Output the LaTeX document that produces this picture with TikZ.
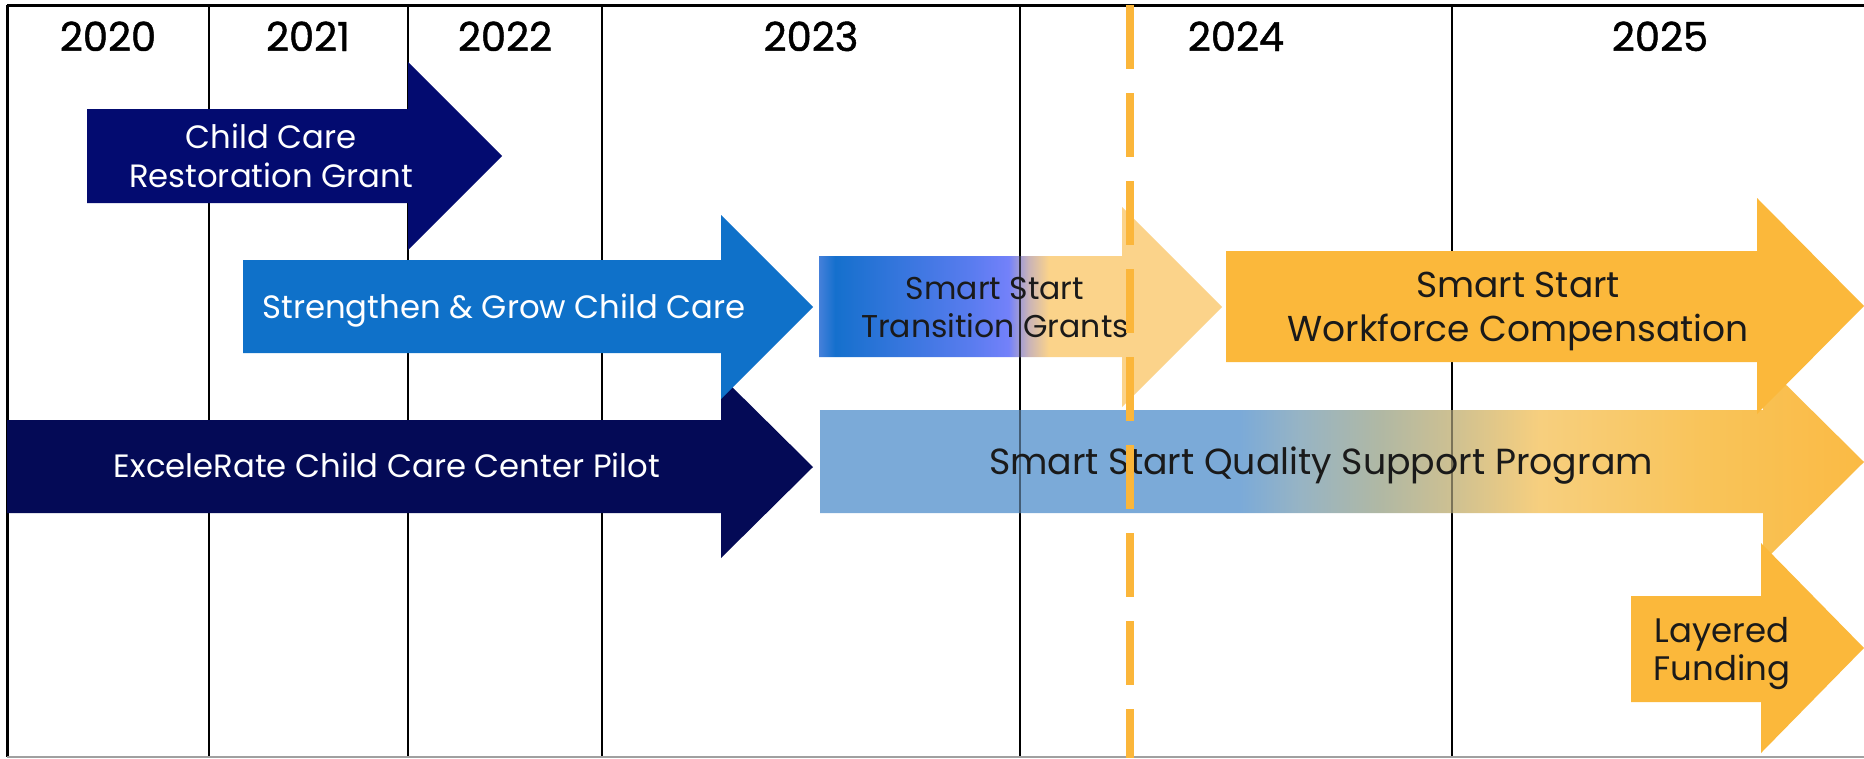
\documentclass[tikz,border=0pt]{standalone}
\usepackage{fontspec}
\setmainfont{Poppins}
\newfontfamily\yearfont[FakeBold=1.2]{Poppins}

% palette
\definecolor{navyA}{HTML}{030B70}
\definecolor{navyB}{HTML}{040A56}
\definecolor{sgblue}{HTML}{0F71C9}
\definecolor{ssorange}{HTML}{FBB83B}
\definecolor{lightorange}{HTML}{FBD38A}
\definecolor{dashorange}{HTML}{FBB63A}
\definecolor{gridgray}{HTML}{A0A0A0}
\definecolor{inkdark}{HTML}{1A1A1A}
% transition grant gradient stops
\definecolor{tgA}{HTML}{4580DA}
\definecolor{tgB}{HTML}{1570CD}
\definecolor{tgC}{HTML}{5A7CEF}
\definecolor{tgD}{HTML}{7381FA}
\definecolor{tgE}{HTML}{C9B3B8}
% quality support gradient stops
\definecolor{qsA}{HTML}{7BAAD8}
\definecolor{qsB}{HTML}{97B4C4}
\definecolor{qsC}{HTML}{B0B8A4}
\definecolor{qsD}{HTML}{CDC092}
\definecolor{qsE}{HTML}{F7CF7E}
\definecolor{qsF}{HTML}{F9C45A}
\definecolor{qsG}{HTML}{FABA44}

% middle 50bp of each shading spans the filled shape
\pgfdeclarehorizontalshading{transgrad}{100bp}{color(0bp)=(tgA); color(25bp)=(tgA); color(27bp)=(tgB); color(44bp)=(tgC); color(48.5bp)=(tgD); color(51bp)=(tgE); color(53.5bp)=(lightorange); color(100bp)=(lightorange)}
\pgfdeclarehorizontalshading{qualgrad}{100bp}{color(0bp)=(qsA); color(25bp)=(qsA); color(45.1bp)=(qsA); color(48bp)=(qsB); color(51.8bp)=(qsC); color(55.2bp)=(qsD); color(59.5bp)=(qsE); color(67.2bp)=(qsF); color(75bp)=(qsG); color(100bp)=(qsG)}

\begin{document}
\begin{tikzpicture}[x=1pt,y=-1pt,
  gridline/.style={line width=2pt,black},
  wtext/.style={text=white,inner sep=0pt,anchor=base,align=center,font=\fontsize{32.3}{39}\selectfont},
  btext/.style={text=inkdark,inner sep=0pt,anchor=base,align=center,font=\fontsize{31.5}{38}\selectfont},
  yr/.style={text=black,inner sep=0pt,anchor=base,font=\yearfont\fontsize{40}{48}\selectfont}]

\useasboundingbox (0,0) rectangle (1864,758);
\fill[white] (0,0) rectangle (1864,758);

% year grid
\foreach \gx in {209,408,602,1020,1452}
  \draw[gridline] (\gx,5) -- (\gx,757);
\draw[line width=3pt,black] (7,5) -- (1864,5);
\draw[line width=3pt,black] (7,5) -- (7,757);
\draw[line width=2pt,gridgray] (7,757) -- (1864,757);

\node[yr] (y2020) at (108,51) {2020};
\node[yr] (y2021) at (308,51) {2021};
\node[yr] (y2022) at (505,51) {2022};
\node[yr] (y2023) at (811,51) {2023};
\node[yr] (y2024) at (1236,51) {2024};
\node[yr] (y2025) at (1660,51) {2025};

% programme arrows
\fill[navyA] (87,109) -- (408,109) -- (408,62) -- (502,156) -- (408,250) -- (408,203) -- (87,203) -- cycle;
\fill[navyB] (7,420) -- (721,420) -- (721,376) -- (813,467) -- (721,558) -- (721,513) -- (7,513) -- cycle;
\fill[sgblue] (243,260) -- (721,260) -- (721,215) -- (813,307) -- (721,399) -- (721,353) -- (243,353) -- cycle;
\shade[shading=transgrad] (819,256) -- (1122,256) -- (1122,207) -- (1222,307) -- (1122,407) -- (1122,357) -- (819,357) -- cycle;
\shade[shading=qualgrad] (820,410) -- (1763,410) -- (1763,362) -- (1864,462) -- (1763,562) -- (1763,513) -- (820,513) -- cycle;
\fill[ssorange] (1226,251) -- (1757,251) -- (1757,198) -- (1864,306) -- (1757,414) -- (1757,362) -- (1226,362) -- cycle;
\fill[ssorange] (1631,596) -- (1761,596) -- (1761,543) -- (1864,648) -- (1761,753) -- (1761,702) -- (1631,702) -- cycle;

% grid showing faintly through the translucent bars
\draw[gridline,opacity=0.7] (1020,256) -- (1020,357);
\draw[gridline,opacity=0.45] (1020,410) -- (1020,513);
\draw[gridline,opacity=0.4] (1452,410) -- (1452,513);

% labels (base anchor sits on the last line)
\node[wtext] (ccrg) at (271,187) {Child Care\\Restoration Grant};
\node[wtext] (sgcc) at (504,318) {Strengthen \& Grow Child Care};
\node[wtext] (ecp) at (387,477) {ExceleRate Child Care Center Pilot};
\node[btext] (sstg) at (995,337) {Smart Start\\Transition Grants};
\node[btext,font=\fontsize{36}{44}\selectfont] (sswc) at (1518,341) {Smart Start\\Workforce Compensation};
\node[btext,font=\fontsize{36.3}{41}\selectfont] (ssqs) at (1321,474) {Smart Start Quality Support Program};
\node[btext,font=\fontsize{34}{38}\selectfont] (lf) at (1722,680) {Layered\\Funding};

% 2024 marker
\draw[line width=8pt,dashorange,dash pattern=on 64pt off 24pt] (1130,5) -- (1130,758);
\end{tikzpicture}
\end{document}
